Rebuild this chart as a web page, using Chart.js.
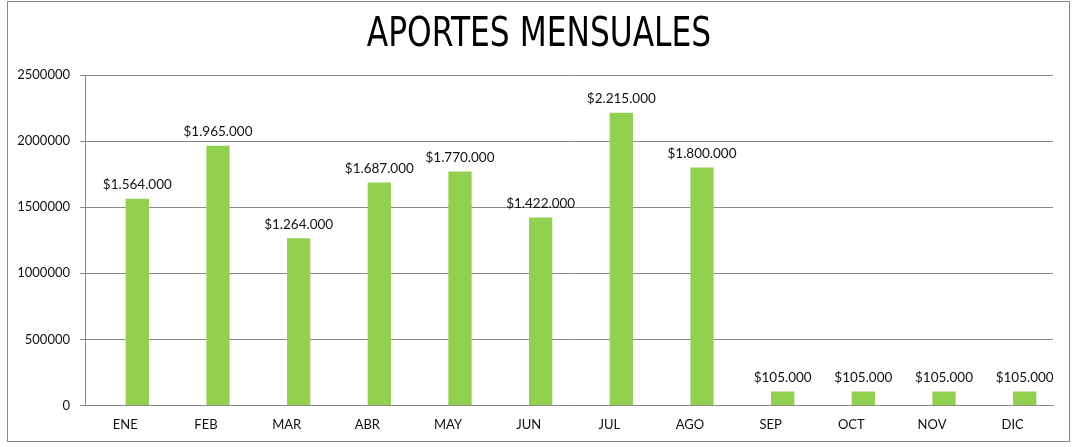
<!DOCTYPE html>
<html>
<head>
<meta charset="utf-8">
<script src="https://cdn.jsdelivr.net/npm/chart.js@4/dist/chart.umd.min.js"></script>
<style>
  html, body { margin: 0; padding: 0; background: #ffffff; }
  #wrap { position: relative; width: 1078px; height: 447px; }
  #frame { position: absolute; left: 7px; top: 1px; width: 1063px; height: 441px; border: 1px solid #8a8a8a; box-sizing: border-box; pointer-events: none; }
  canvas { position: absolute; left: 0; top: 0; }
</style>
</head>
<body>
<div id="wrap">
  <canvas id="c" width="1078" height="447"></canvas>
  <div id="frame"></div>
</div>
<script>
const chartTitle = "APORTES MENSUALES";
const months = ["ENE", "FEB", "MAR", "ABR", "MAY", "JUN", "JUL", "AGO", "SEP", "OCT", "NOV", "DIC"];
const aportes = [1564000, 1965000, 1264000, 1687000, 1770000, 1422000, 2215000, 1800000, 105000, 105000, 105000, 105000];
const yTicks = [0, 500000, 1000000, 1500000, 2000000, 2500000];

const fmtMoney = v => "$" + String(v).replace(/\B(?=(\d{3})+(?!\d))/g, ".");
const baseFont = "Lato, 'Open Sans', sans-serif";
const gray = "#8a8a8a";

const titlePlugin = {
  id: "condensedTitle",
  afterDraw(chart) {
    const ctx = chart.ctx;
    ctx.save();
    ctx.font = "40px 'Liberation Sans Narrow', 'DejaVu Sans Condensed', sans-serif";
    ctx.fillStyle = "#000";
    ctx.textAlign = "center";
    ctx.textBaseline = "middle";
    ctx.translate(539, 36);
    ctx.scale(0.87, 1);
    ctx.fillText(chartTitle, 0, 0);
    ctx.restore();
  }
};

const labelPlugin = {
  id: "barLabels",
  afterDatasetsDraw(chart) {
    const ctx = chart.ctx;
    const meta = chart.getDatasetMeta(1);
    ctx.save();
    ctx.font = "13.5px " + baseFont;
    ctx.fillStyle = "#111";
    ctx.textAlign = "center";
    ctx.textBaseline = "bottom";
    meta.data.forEach((el, i) => {
      ctx.fillText(fmtMoney(aportes[i]), el.x, el.y - 7);
    });
    ctx.restore();
  }
};

new Chart(document.getElementById("c"), {
  type: "bar",
  data: {
    labels: months,
    datasets: [
      { label: "", data: [], backgroundColor: "rgba(0,0,0,0)" },
      { label: "Aportes", data: aportes, backgroundColor: "#92D050", borderWidth: 0 }
    ]
  },
  options: {
    responsive: false,
    animation: false,
    datasets: { bar: { categoryPercentage: 0.595, barPercentage: 0.97 } },
    layout: { padding: { left: 7, right: 25, top: 75, bottom: 2 } },
    plugins: {
      legend: { display: false },
      tooltip: { enabled: false },
      title: { display: false }
    },
    scales: {
      x: {
        grid: { display: false, drawTicks: false },
        border: { display: true, color: gray, width: 1 },
        ticks: { color: "#111", font: { family: baseFont, size: 13 }, padding: 12, maxRotation: 0 }
      },
      y: {
        min: 0,
        max: 2500000,
        afterBuildTicks(scale) { scale.ticks = yTicks.map(v => ({ value: v })); },
        afterFit(scale) { scale.width = 78; },
        grid: { color: gray, lineWidth: 1, drawTicks: true, tickLength: 5, tickColor: gray },
        border: { display: true, color: gray, width: 1 },
        ticks: { color: "#111", font: { family: baseFont, size: 13 }, padding: 10, callback: v => String(v) }
      }
    }
  },
  plugins: [labelPlugin, titlePlugin]
});
</script>
</body>
</html>
